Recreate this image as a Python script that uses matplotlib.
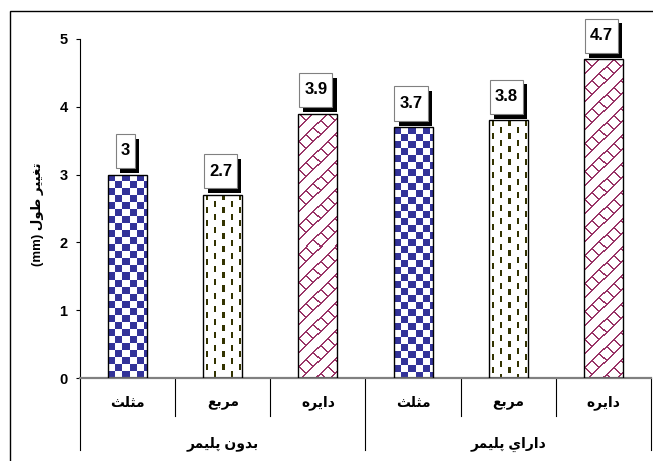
#!/usr/bin/env python3

import numpy as np
import matplotlib
matplotlib.use("Agg")
import matplotlib.pyplot as plt
import matplotlib.patheffects as pe
from matplotlib.path import Path
from matplotlib.patches import Rectangle

plt.rcParams['font.family'] = ['Liberation Sans', 'DejaVu Sans']
plt.rcParams['font.weight'] = 'bold'

# data
groups = ['بدون پليمر', 'داراي پليمر']
shapes = ['مثلث', 'مربع', 'دايره']
values = [3, 2.7, 3.9, 3.7, 3.8, 4.7]
ylabel = 'تغيير طول (mm)'
yticks = [0, 1, 2, 3, 4, 5]

# pattern per shape: checker blue, dashed olive, trellis crimson
patterns = ['checker', 'dash', 'trellis']
pattern_colors = ['#333399', '#333300', '#993366']


## minimal arabic shaping (matplotlib draws letters left to right, unjoined)
FORMS = {
    'ا': ('\uFE8D', '\uFE8E', None, None),
    'ب': ('\uFE8F', '\uFE90', '\uFE91', '\uFE92'),
    'پ': ('\uFB56', '\uFB57', '\uFB58', '\uFB59'),
    'ت': ('\uFE95', '\uFE96', '\uFE97', '\uFE98'),
    'ث': ('\uFE99', '\uFE9A', '\uFE9B', '\uFE9C'),
    'د': ('\uFEA9', '\uFEAA', None, None),
    'ر': ('\uFEAD', '\uFEAE', None, None),
    'ط': ('\uFEC1', '\uFEC2', '\uFEC3', '\uFEC4'),
    'ع': ('\uFEC9', '\uFECA', '\uFECB', '\uFECC'),
    'غ': ('\uFECD', '\uFECE', '\uFECF', '\uFED0'),
    'ل': ('\uFEDD', '\uFEDE', '\uFEDF', '\uFEE0'),
    'م': ('\uFEE1', '\uFEE2', '\uFEE3', '\uFEE4'),
    'ن': ('\uFEE5', '\uFEE6', '\uFEE7', '\uFEE8'),
    'ه': ('\uFEE9', '\uFEEA', '\uFEEB', '\uFEEC'),
    'و': ('\uFEED', '\uFEEE', None, None),
    'ي': ('\uFEF1', '\uFEF2', '\uFEF3', '\uFEF4'),
}


def shape_word(word):
    if not any(c in FORMS for c in word):
        return word
    out = []
    for i, c in enumerate(word):
        if c not in FORMS:
            out.append(c)
            continue
        prev = word[i - 1] if i > 0 else None
        nxt = word[i + 1] if i < len(word) - 1 else None
        joins_prev = prev in FORMS and FORMS[prev][2] is not None
        joins_next = nxt in FORMS and FORMS[c][2] is not None
        iso, fin, ini, med = FORMS[c]
        if joins_prev and joins_next:
            out.append(med)
        elif joins_prev:
            out.append(fin)
        elif joins_next:
            out.append(ini)
        else:
            out.append(iso)
    return ''.join(out)[::-1]


def rtl(text):
    return ' '.join(shape_word(w) for w in text.split(' ')[::-1])


def texture(kind, color, w, h):
    rgb = np.array(matplotlib.colors.to_rgb(color))
    yy, xx = np.mgrid[0:h, 0:w]
    if kind == 'checker':
        mask = ((xx // 7) + (yy // 7)) % 2 == 0
    elif kind == 'dash':
        col = (xx % 8 >= 3) & (xx % 8 < 5)
        shift = ((xx // 8) % 2) * 6
        mask = col & (((yy + shift) % 13) < 6)
    else:
        mask = ((xx + yy) % 14 < 2) | (((xx - yy) % 14 < 2) & ((xx + yy) % 28 < 14))
    img = np.ones((h, w, 3))
    img[mask] = rgb
    return img


fig = plt.figure(figsize=(6.53, 4.61), dpi=100)
W, H = 653, 461
ax = fig.add_axes([80 / W, (H - 378) / H, 571 / W, 339 / H])

x = np.arange(len(values))
ax.set_xlim(-0.5, len(values) - 0.5)
ax.set_ylim(0, 5)

bars = ax.bar(x, values, width=0.41, color='white', edgecolor='none', zorder=2)
fig.canvas.draw()
for i, b in enumerate(bars):
    k = i % len(shapes)
    (px0, py0), (px1, py1) = ax.transData.transform(
        [(b.get_x(), 0), (b.get_x() + b.get_width(), b.get_height())])
    w_px = max(int(round(px1 - px0)), 1)
    h_px = max(int(round(py1 - py0)), 1)
    img = texture(patterns[k], pattern_colors[k], w_px, h_px)
    im = ax.imshow(img, extent=(b.get_x(), b.get_x() + b.get_width(), 0, b.get_height()),
                   aspect='auto', interpolation='nearest', origin='upper', zorder=2.5)
    im.set_clip_path(b)
ax.bar(x, values, width=0.41, fill=False, edgecolor='black', linewidth=1.0, zorder=3)
ax.set_xlim(-0.5, len(values) - 0.5)
ax.set_ylim(0, 5)


## value labels: tall white box with black shadow
def tall_box(x0, y0, width, height, mutation_size):
    px = 0.30 * mutation_size
    py = 0.58 * mutation_size
    return Path([(x0 - px, y0 - py), (x0 + width + px, y0 - py),
                 (x0 + width + px, y0 + height + py), (x0 - px, y0 + height + py),
                 (x0 - px, y0 - py)], closed=True)


for xi, v in zip(x, values):
    t = ax.annotate(f'{v:g}', (xi, v), xytext=(-1.5, 17), textcoords='offset points',
                    ha='center', va='center', fontsize=12, fontweight='bold', zorder=5,
                    bbox=dict(boxstyle=tall_box, facecolor='white', edgecolor='#808080',
                              linewidth=0.8))
    t.get_bbox_patch().set_path_effects([
        pe.SimplePatchShadow(offset=(3, -3.5), shadow_rgbFace='black', alpha=1.0),
        pe.Normal()])

# axes styling
for s in ['top', 'right']:
    ax.spines[s].set_visible(False)
ax.spines['bottom'].set_color('#808080')
ax.spines['bottom'].set_linewidth(1.6)
ax.spines['left'].set_linewidth(0.8)
ax.set_yticks(yticks)
ax.tick_params(axis='y', length=3, width=0.8, pad=6, labelsize=10.5)
for lab in ax.get_yticklabels():
    lab.set_fontweight('bold')
ax.set_xticks([])

# category labels and separators
xt = ax.get_xaxis_transform()
ax_h = 339.0
for xi in x:
    ax.annotate(rtl(shapes[xi % len(shapes)]), (xi, 0), xycoords=xt,
                xytext=(0, -25 * 0.72), textcoords='offset points',
                ha='center', va='center', fontsize=10, fontweight='bold')
for gi, g in enumerate(groups):
    mid = np.mean(x[gi * len(shapes):(gi + 1) * len(shapes)])
    ax.annotate(rtl(g), (mid, 0), xycoords=xt, xytext=(0, -66 * 0.72),
                textcoords='offset points', ha='center', va='center',
                fontsize=10, fontweight='bold')
for bnd in np.arange(len(values) + 1) - 0.5:
    idx = int(bnd + 0.5)
    depth = 72 if idx % len(shapes) == 0 else 38
    ax.plot([bnd, bnd], [0, -depth / ax_h], transform=xt, color='black',
            linewidth=0.8, clip_on=False)

fig.text(38 / W, 1 - 214 / H, rtl(ylabel), rotation=90, ha='center', va='center',
         fontsize=9.5, fontweight='bold')

# chart border
fig.patches.append(Rectangle((10 / W, -0.1), 1.2, 1 - 11 / H + 0.1, transform=fig.transFigure,
                             fill=False, edgecolor='black', linewidth=1.0))

fig.savefig('out.png', dpi=100)
plt.close()
